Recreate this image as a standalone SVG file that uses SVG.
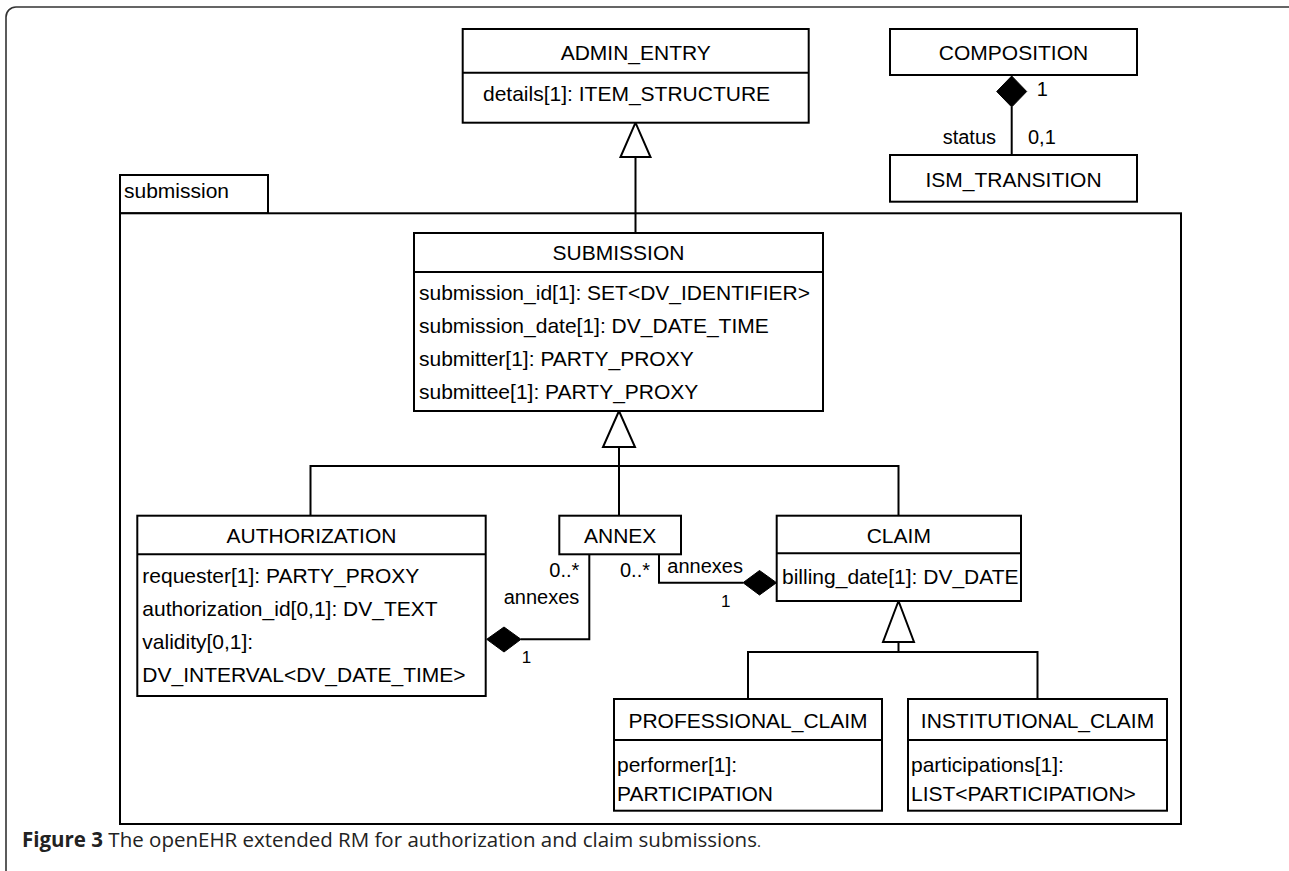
<svg xmlns="http://www.w3.org/2000/svg" width="1289" height="871" viewBox="0 0 1289 871">
<style>
.box{fill:#fff;stroke:#000;stroke-width:2}
.ln{fill:none;stroke:#000;stroke-width:2}
.gen{fill:#fff;stroke:#000;stroke-width:2}
.dia{fill:#000;stroke:#000;stroke-width:1}
text{font-family:"Liberation Sans",Arial,sans-serif;font-size:21px;fill:#000}
.c{text-anchor:middle}
.e{text-anchor:end}
.cap{font-family:"Open Sans","Noto Sans",sans-serif;font-size:20.5px;fill:#222}
</style>
<rect x="6" y="7" width="1300" height="900" rx="10" fill="none" stroke="#333" stroke-width="1.6"/>

<g id="package-submission">
<rect class="box" x="120" y="175" width="148" height="38.3"/>
<rect class="box" x="120" y="213.3" width="1061" height="610.7"/>
<text x="124" y="198">submission</text>
</g>

<g id="connectors">
<polygon class="gen" points="635.5,122.7 620.5,157 650.5,157"/>
<line class="ln" x1="635.5" y1="157" x2="635.5" y2="233"/>
<line class="ln" x1="1011.7" y1="107" x2="1011.7" y2="155"/>
<polygon class="dia" points="1011.7,76 1026.7,91.5 1011.7,107 996.7,91.5"/>
<polygon class="gen" points="619,411 603,447 635,447"/>
<line class="ln" x1="619" y1="447" x2="619" y2="515.7"/>
<polyline class="ln" points="310.5,515.7 310.5,466 898.5,466 898.5,515.7"/>
<polyline class="ln" points="589.3,554.3 589.3,639.3 521,639.3"/>
<polygon class="dia" points="486.7,639.3 504,627 521,639.3 504,652"/>
<polyline class="ln" points="659,554.3 659,582.7 743,582.7"/>
<polygon class="dia" points="743,582.7 759.5,570.5 776.5,582.7 759.5,595"/>
<polygon class="gen" points="898.5,601 883,642 914,642"/>
<line class="ln" x1="898.5" y1="642" x2="898.5" y2="652"/>
<polyline class="ln" points="748,699 748,652 1037.5,652 1037.5,699"/>
<text x="1036.7" y="96" style="font-size:20px">1</text>
<text class="e" x="996" y="144" style="font-size:20px">status</text>
<text x="1028" y="144" style="font-size:20px">0,1</text>
<text class="e" x="579.3" y="576.7" style="font-size:20px">0..*</text>
<text class="e" x="579.3" y="604" style="font-size:20px">annexes</text>
<text x="521.7" y="662.7" style="font-size:17px">1</text>
<text class="e" x="650" y="576.7" style="font-size:20px">0..*</text>
<text x="667.3" y="573.3" style="font-size:20px">annexes</text>
<text x="721" y="607" style="font-size:17px">1</text>
</g>

<g id="ADMIN_ENTRY">
<rect class="box" x="462.7" y="29" width="346" height="93.7"/>
<line class="ln" x1="462.7" y1="72.7" x2="808.7" y2="72.7"/>
<text class="c" x="635.7" y="60">ADMIN_ENTRY</text>
<text x="483" y="101">details[1]: ITEM_STRUCTURE</text>
</g>

<g id="COMPOSITION">
<rect class="box" x="890" y="29" width="247" height="46"/>
<text class="c" x="1013.5" y="60">COMPOSITION</text>
</g>

<g id="ISM_TRANSITION">
<rect class="box" x="890" y="155" width="247" height="46.7"/>
<text class="c" x="1013.5" y="186.7">ISM_TRANSITION</text>
</g>

<g id="SUBMISSION">
<rect class="box" x="414" y="233" width="409" height="178"/>
<line class="ln" x1="414" y1="272" x2="823" y2="272"/>
<text class="c" x="618.5" y="260">SUBMISSION</text>
<text x="419" y="300">submission_id[1]: SET&lt;DV_IDENTIFIER&gt;</text>
<text x="419" y="333">submission_date[1]: DV_DATE_TIME</text>
<text x="419" y="366">submitter[1]: PARTY_PROXY</text>
<text x="419" y="399">submittee[1]: PARTY_PROXY</text>
</g>

<g id="AUTHORIZATION">
<rect class="box" x="137.3" y="515.7" width="348.4" height="180.3"/>
<line class="ln" x1="137.3" y1="554.3" x2="485.7" y2="554.3"/>
<text class="c" x="311.5" y="543.3">AUTHORIZATION</text>
<text x="142.3" y="583.3">requester[1]: PARTY_PROXY</text>
<text x="142.3" y="616.3">authorization_id[0,1]: DV_TEXT</text>
<text x="142.3" y="649">validity[0,1]:</text>
<text x="142.3" y="681.7">DV_INTERVAL&lt;DV_DATE_TIME&gt;</text>
</g>

<g id="ANNEX">
<rect class="box" x="559.3" y="515.7" width="121.7" height="38.6"/>
<text class="c" x="620.2" y="543.3">ANNEX</text>
</g>

<g id="CLAIM">
<rect class="box" x="776.7" y="515.7" width="244.3" height="85.3"/>
<line class="ln" x1="776.7" y1="553.3" x2="1021" y2="553.3"/>
<text class="c" x="898.8" y="543.3">CLAIM</text>
<text x="782" y="584">billing_date[1]: DV_DATE</text>
</g>

<g id="PROFESSIONAL_CLAIM">
<rect class="box" x="614" y="699" width="268" height="111.7"/>
<line class="ln" x1="614" y1="740" x2="882" y2="740"/>
<text class="c" x="748" y="728">PROFESSIONAL_CLAIM</text>
<text x="617" y="772">performer[1]:</text>
<text x="617" y="801">PARTICIPATION</text>
</g>

<g id="INSTITUTIONAL_CLAIM">
<rect class="box" x="908" y="699" width="259" height="111.7"/>
<line class="ln" x1="908" y1="740" x2="1167" y2="740"/>
<text class="c" x="1037.5" y="728">INSTITUTIONAL_CLAIM</text>
<text x="911" y="772">participations[1]:</text>
<text x="911" y="801">LIST&lt;PARTICIPATION&gt;</text>
</g>

<text class="cap" x="22" y="847"><tspan font-weight="bold">Figure 3</tspan> The openEHR extended RM for authorization and claim submissions<tspan font-size="15">.</tspan></text>
</svg>
